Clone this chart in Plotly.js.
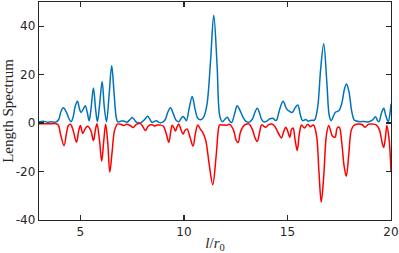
<!DOCTYPE html>
<html>
<head>
<meta charset="utf-8">
<script src="https://cdn.plot.ly/plotly-3.0.1.min.js"></script>
<style>html,body{margin:0;padding:0;background:#fff;}#chart{width:399px;height:253px;}</style>
</head>
<body>
<div id="chart"></div>
<script>
// Blue series (positive length spectrum)
var blueX = [3.0,3.2,3.4,3.6,3.8,3.95,4.05,4.18,4.32,4.45,4.55,4.65,4.75,4.86,4.95,5.03,5.12,5.23,5.33,5.42,5.5,5.63,5.73,5.82,5.92,6.05,6.15,6.26,6.38,6.51,6.62,6.72,6.8,6.95,7.08,7.25,7.4,7.5,7.6,7.7,7.9,8.1,8.25,8.38,8.46,8.57,8.67,8.8,8.95,9.1,9.22,9.35,9.48,9.62,9.75,9.87,9.96,10.05,10.12,10.25,10.4,10.53,10.67,10.8,10.95,11.1,11.28,11.44,11.6,11.73,11.85,11.97,12.09,12.2,12.3,12.45,12.57,12.7,12.85,13.0,13.13,13.3,13.43,13.54,13.65,13.75,13.86,14.0,14.15,14.29,14.4,14.47,14.6,14.79,14.95,15.1,15.23,15.38,15.5,15.62,15.73,15.88,16.0,16.15,16.3,16.45,16.6,16.75,16.9,17.02,17.11,17.25,17.32,17.48,17.62,17.75,17.85,17.97,18.1,18.22,18.29,18.5,18.7,18.9,19.1,19.25,19.35,19.42,19.55,19.65,19.75,19.87,19.95,20.0];
var blueY = [0.5,0.8,0.4,0.6,0.4,1.5,4.5,6.3,4.5,1.8,0.6,2.5,7,9.0,6,4.4,5.5,7.2,4.5,1,5,14.5,6,0.6,7,17.2,7,0.6,11,23.7,13,3,0.5,0.8,0.9,0.4,1.5,2.3,1.5,0.4,0.1,1.5,2.8,1.2,0.3,0.7,1,0.3,0.3,1.5,4.5,6.3,4,1.2,0.6,2,2.7,1.8,1,6,11,6,2,1.4,2.5,7,25,44.5,24,3,0.6,1.5,2.4,1,0.2,4,7.2,5.4,2.5,0.7,0.3,1.6,4.5,6.1,4.2,1.5,0.5,0.8,1.8,2,1.2,1.2,5,9,6,4.8,4.4,6.5,7.5,3.5,1,1.5,0.8,1.2,1.2,6,22,32.8,17,3,1,3.5,4.5,5.1,8,14,16.1,13,5,1.3,1,0.6,0.7,0.5,1.2,2.6,1,0.6,4.5,6.1,3,0.6,4,8];

// Red series (negative length spectrum)
var redX = [3.0,3.5,3.9,4.05,4.21,4.33,4.42,4.52,4.65,4.81,4.92,5.0,5.11,5.22,5.34,5.5,5.63,5.72,5.8,5.92,6.03,6.13,6.22,6.32,6.42,6.53,6.65,6.79,6.95,7.08,7.25,7.4,7.55,7.7,7.9,8.02,8.14,8.25,8.35,8.5,8.6,8.7,8.85,9.0,9.15,9.27,9.37,9.43,9.52,9.59,9.67,9.75,9.85,9.96,10.05,10.15,10.3,10.44,10.56,10.67,10.8,10.9,11.05,11.22,11.39,11.55,11.66,11.72,11.9,12.1,12.2,12.4,12.52,12.62,12.72,12.85,13.0,13.15,13.3,13.43,13.54,13.65,13.76,13.95,14.1,14.25,14.4,14.58,14.71,14.82,14.92,15.0,15.11,15.2,15.27,15.37,15.47,15.58,15.68,15.82,15.98,16.1,16.25,16.4,16.52,16.63,16.75,16.88,16.99,17.08,17.16,17.3,17.4,17.5,17.62,17.74,17.84,17.95,18.08,18.2,18.4,18.6,18.75,18.9,19.1,19.3,19.45,19.57,19.65,19.73,19.8,19.9,20.0];
var redY = [-0.3,-0.3,-0.5,-5,-9.3,-4,-1,-0.5,-3,-7.9,-3,-1,-4.2,-2.5,-1.3,-3,-7.2,-3,-0.3,-7,-15.7,-7,-0.5,-8,-20.2,-12,-3,-0.4,-0.5,-1,-0.5,-1,-1.8,-0.5,-0.2,-1.5,-3.1,-1.5,-0.8,-0.8,-1.2,-0.8,-0.8,-1.2,-4.5,-7.9,-3,-0.9,-2,-3.3,-1.5,-0.4,-2.5,-4.5,-3,-2.4,-6,-9.5,-4,-0.8,-2.6,-3.7,-7,-17,-25.4,-14,-3,-0.8,-0.8,-0.8,-0.5,-3,-7,-8,-4,-1.5,-0.5,-0.4,-2.5,-6,-7.6,-4,-0.8,-1.7,-0.6,-0.4,-1.5,-4.5,-6.1,-3.5,-1.7,-3,-5.8,-2.5,-2,-7,-11.3,-4,-0.8,-2,-0.5,-1.5,-0.8,-5,-20,-32.6,-22,-5,-1,-3,-5.2,-5.8,-2,-1.7,-8,-18,-21.9,-14,-3,-1,-0.4,-0.6,-1.7,-0.5,-0.4,-0.8,-3,-8,-10,-6,-1,-6,-20];

var xTickVals = [5, 10, 15, 20];
var xTickText = ['5', '10', '15', '20'];
var yTickVals = [-40, -20, 0, 20, 40];
var yTickText = ['-40', '-20', '0', '20', '40'];

var traces = [
  {x: blueX, y: blueY, type: 'scatter', mode: 'lines',
   line: {color: '#0072BD', width: 1.5, shape: 'spline', smoothing: 1}, hoverinfo: 'skip'},
  {x: redX, y: redY, type: 'scatter', mode: 'lines',
   line: {color: '#FF0000', width: 1.5, shape: 'spline', smoothing: 1}, hoverinfo: 'skip'}
];

var axisCommon = {
  showline: true, linecolor: '#262626', linewidth: 1.3, mirror: 'ticks',
  ticks: 'inside', ticklen: 5, tickwidth: 1.3, tickcolor: '#262626',
  showgrid: false, zeroline: false,
  tickfont: {family: 'DejaVu Sans', size: 12, color: '#262626'}
};

var layout = {
  width: 399, height: 253,
  margin: {l: 39, r: 8, t: 2, b: 33},
  paper_bgcolor: '#ffffff', plot_bgcolor: '#ffffff',
  showlegend: false,
  xaxis: Object.assign({}, axisCommon, {
    range: [3, 20], tickmode: 'array', tickvals: xTickVals, ticktext: xTickText,
    title: {text: '<i>l</i>/<i>r</i><sub>0</sub>', font: {family: 'Liberation Serif', size: 15, color: '#262626'}, standoff: 4}
  }),
  yaxis: Object.assign({}, axisCommon, {
    range: [-40, 50], tickmode: 'array', tickvals: yTickVals, ticktext: yTickText,
    title: {text: 'Length Spectrum', font: {family: 'Liberation Serif', size: 15, color: '#262626'}, standoff: 6}
  })
};

Plotly.newPlot('chart', traces, layout, {staticPlot: true, displayModeBar: false});
</script>
</body>
</html>
